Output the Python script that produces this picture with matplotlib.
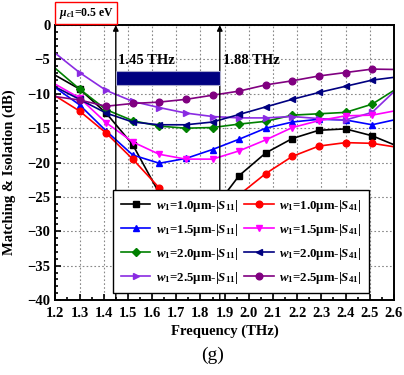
import matplotlib
matplotlib.use("Agg")
import matplotlib.pyplot as plt
from matplotlib.patches import Rectangle
from matplotlib.ticker import MultipleLocator

plt.rcParams['font.family'] = ['Liberation Serif', 'DejaVu Serif']
plt.rcParams['font.weight'] = 'bold'
plt.rcParams['mathtext.fontset'] = 'custom'
plt.rcParams['mathtext.rm'] = 'Liberation Serif:bold'
plt.rcParams['mathtext.it'] = 'Liberation Serif:italic:bold'
plt.rcParams['mathtext.bf'] = 'Liberation Serif:bold'

freq = [1.2, 1.3, 1.41, 1.52, 1.63, 1.74, 1.85, 1.96, 2.07, 2.18, 2.29, 2.40, 2.51, 2.6]

s11_w10 = [-7.3, -9.3, -12.8, -17.4, -24.5, -30.0, -27.0, -21.9, -18.6, -16.5, -15.3, -15.1, -16.1, -17.4]
s41_w10 = [-10.3, -12.5, -15.7, -19.5, -23.7, -28.5, -28.0, -24.7, -21.6, -19.1, -17.6, -17.1, -17.2, -17.7]
s11_w15 = [-9.1, -11.6, -15.4, -18.9, -20.1, -19.4, -18.1, -16.6, -15.0, -14.1, -13.7, -13.8, -14.5, -13.8]
s41_w15 = [-8.6, -10.6, -14.2, -17.0, -18.8, -19.5, -19.5, -18.3, -16.7, -14.9, -13.9, -13.2, -13.1, -12.5]
s11_w20 = [-6.3, -9.3, -12.3, -13.9, -14.7, -15.0, -14.9, -14.4, -14.0, -13.1, -12.9, -12.7, -11.5, -9.5]
s41_w20 = [-9.0, -10.8, -12.8, -14.1, -14.5, -14.5, -14.1, -13.0, -11.9, -10.8, -9.8, -8.9, -8.0, -7.6]
s11_w25 = [-4.1, -6.9, -9.5, -11.1, -12.0, -12.8, -13.3, -13.5, -13.5, -13.3, -13.6, -13.8, -12.7, -9.7]
s41_w25 = [-10.4, -10.9, -11.8, -11.4, -11.2, -10.8, -10.2, -9.6, -8.7, -8.1, -7.4, -6.9, -6.4, -6.45]

labels = [
    r"$w_1$=1.0μm-|$S_{11}$|", r"$w_1$=1.5μm-|$S_{11}$|",
    r"$w_1$=2.0μm-|$S_{11}$|", r"$w_1$=2.5μm-|$S_{11}$|",
    r"$w_1$=1.0μm-|$S_{41}$|", r"$w_1$=1.5μm-|$S_{41}$|",
    r"$w_1$=2.0μm-|$S_{41}$|", r"$w_1$=2.5μm-|$S_{41}$|",
]
series = [s11_w10, s11_w15, s11_w20, s11_w25, s41_w10, s41_w15, s41_w20, s41_w25]
colors = ['#000000', '#0000ff', '#008000', '#8a2be2', '#ff0000', '#ff00ff', '#000080', '#800080']
markers = ['s', '^', 'D', '>', 'o', 'v', '<', 'o']

band = [1.45, 1.88]
band_labels = ["1.45 THz", "1.88 THz"]

fig = plt.figure(figsize=(4.04, 3.75), dpi=100)
ax = fig.add_axes([0.137, 0.2, 0.838, 0.733])

for ys, c, m, lab in zip(series, colors, markers, labels):
    ms = 3.8 if m == 'D' else 4.8
    ax.plot(freq, ys, color=c, marker=m, markersize=ms, lw=1.2,
            markevery=slice(1, 13), label=lab)

ax.set_xlim(1.2, 2.6)
ax.set_ylim(-40, 0)
ax.xaxis.set_major_locator(MultipleLocator(0.1))
ax.xaxis.set_minor_locator(MultipleLocator(0.05))
ax.yaxis.set_major_locator(MultipleLocator(5))
ax.yaxis.set_minor_locator(MultipleLocator(1))
ax.xaxis.set_major_formatter(matplotlib.ticker.FormatStrFormatter('%.1f'))
ax.tick_params(which='both', direction='in', labelsize=10.5, width=1.2)
ax.tick_params(which='major', length=4)
ax.tick_params(which='minor', length=2)
ax.tick_params(axis='x', pad=5)
for s in ax.spines.values():
    s.set_linewidth(1.4)
ax.grid(True, which='major', linestyle=(0, (1.5, 2)), color='#888888', lw=0.8)
for lab in ax.get_xticklabels() + ax.get_yticklabels():
    lab.set_fontweight('bold')

ax.set_xlabel("Frequency (THz)", fontsize=10.5, fontweight='bold', labelpad=3)
ax.set_ylabel("Matching & Isolation (dB)", fontsize=10.5, fontweight='bold', labelpad=2)
ax.yaxis.set_label_coords(-0.115, 0.465)

# band arrows
for f in band:
    ax.annotate("", xy=(f, 0), xytext=(f, -40),
                arrowprops=dict(arrowstyle='-|>', color='black', lw=1.0,
                                shrinkA=0, shrinkB=0, mutation_scale=8))
ax.text(band[0] + 0.01, -5.1, band_labels[0], fontsize=10.5, fontweight='bold',
        va='center', ha='left')
ax.text(band[1] + 0.015, -5.1, band_labels[1], fontsize=10.5, fontweight='bold',
        va='center', ha='left')
ax.add_patch(Rectangle((band[0], -8.7), band[1] - band[0], 2.0,
                       facecolor='#000080', edgecolor='#aaaacc', lw=0.8, zorder=5))

leg = ax.legend(ncol=2, loc='lower left', bbox_to_anchor=(0.17, 0.024),
                fontsize=9.3, frameon=True, fancybox=False, edgecolor='black',
                framealpha=1, columnspacing=0.5, handlelength=2.3,
                handletextpad=0.4, labelspacing=0.62, borderpad=0.6,
                borderaxespad=0)
leg.get_frame().set_linewidth(1.0)
leg.set_zorder(10)

fig.text(0.145, 0.965, r"$\mu_{c1}$=0.5 eV", fontsize=8.5, fontweight='bold',
         va='center', ha='left',
         bbox=dict(boxstyle='square,pad=0.3', facecolor='white', edgecolor='red', lw=1.0))

fig.text(0.527, 0.052, "(g)", fontsize=14, fontweight='normal', ha='center', va='center')

fig.savefig("out.png", dpi=100)
